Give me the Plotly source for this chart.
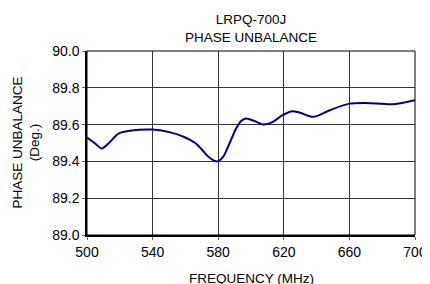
import plotly.graph_objects as go

freq = [500, 505, 509, 514, 519, 526, 540, 552, 560, 566, 570, 574, 579, 583, 587, 591, 594, 597, 602, 608, 613, 619, 625, 630, 638, 648, 660, 670, 687, 700]
phase = [89.53, 89.497, 89.47, 89.506, 89.55, 89.566, 89.573, 89.555, 89.53, 89.50, 89.465, 89.425, 89.40, 89.425, 89.50, 89.58, 89.62, 89.633, 89.62, 89.60, 89.613, 89.65, 89.673, 89.664, 89.642, 89.678, 89.714, 89.718, 89.711, 89.733]

x_ticks = [500, 540, 580, 620, 660, 700]
y_ticks = [89.0, 89.2, 89.4, 89.6, 89.8, 90.0]

font = "Liberation Sans, Arial, sans-serif"

# page offset of the plot div (default body margin)
OFF = 8
W, H = 430, 284
L, T = 87 - OFF, 51 - OFF
R = W - (415 - OFF)
B = H - (235 - OFF)
pw, ph = W - L - R, H - T - B

fig = go.Figure()
fig.add_trace(go.Scatter(x=freq, y=phase, mode="lines",
                         line=dict(color="#000080", width=2, shape="spline", smoothing=0.8)))

fig.update_layout(
    width=W, height=H,
    margin=dict(l=L, r=R, t=T, b=B, autoexpand=False),
    paper_bgcolor="white", plot_bgcolor="white",
    showlegend=False,
    font=dict(family=font, color="black", size=14),
)
fig.update_xaxes(range=[500, 700], tickvals=x_ticks, ticktext=[str(v) for v in x_ticks],
                 showgrid=True, gridcolor="#333333", gridwidth=1,
                 showline=True, linecolor="black", linewidth=2, mirror=False,
                 ticks="outside", ticklen=3, tickcolor="#666666",
                 tickfont=dict(size=14), automargin=False,
                 zeroline=False)
fig.update_yaxes(range=[89.0, 90.0], tickvals=y_ticks, ticktext=[f"{v:.1f}" for v in y_ticks],
                 showgrid=True, gridcolor="#333333", gridwidth=1,
                 showline=True, linecolor="black", linewidth=1.5, mirror=False,
                 ticks="outside", ticklen=3, tickcolor="#666666",
                 tickfont=dict(size=14), automargin=False,
                 zeroline=False)
fig.add_shape(type="rect", xref="paper", yref="paper", x0=0, y0=0, x1=1, y1=1,
              line=dict(color="black", width=1))

plot_bottom = H - B
# title
fig.add_annotation(text="LRPQ-700J<br>PHASE UNBALANCE", xref="paper", yref="paper",
                   x=0.5, y=1 + (T - (10 - OFF)) / ph, xanchor="center", yanchor="top",
                   showarrow=False, font=dict(size=13.5, family=font))
# y title
fig.add_annotation(text="PHASE UNBALANCE<br>(Deg.)", xref="paper", yref="paper",
                   x=(26 - OFF - L) / pw, y=(plot_bottom - (142.5 - OFF)) / ph,
                   xanchor="center", yanchor="middle",
                   textangle=-90, showarrow=False, font=dict(size=13.5, family=font))
# x title
fig.add_annotation(text="FREQUENCY (MHz)", xref="paper", yref="paper",
                   x=0.5, y=-((278 - OFF) - plot_bottom) / ph, xanchor="center", yanchor="middle",
                   showarrow=False, font=dict(size=13.5, family=font))

fig.write_html("out.html")
